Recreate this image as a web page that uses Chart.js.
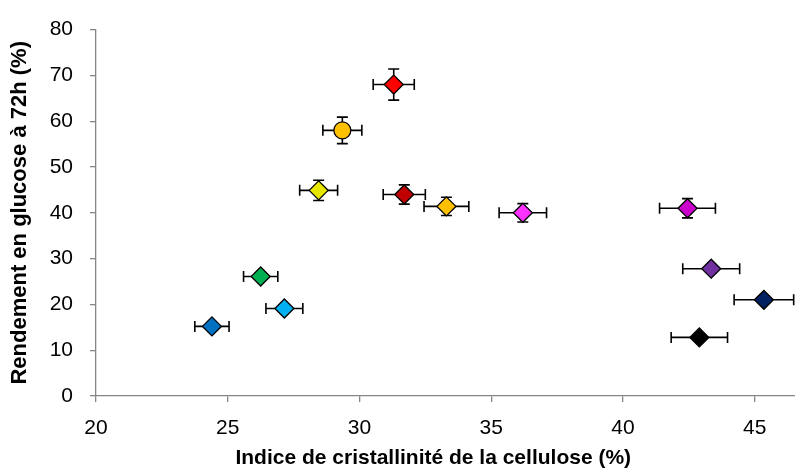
<!DOCTYPE html>
<html><head><meta charset="utf-8">
<script src="https://cdn.jsdelivr.net/npm/chart.js@4.4.1/dist/chart.umd.min.js"></script>
<style>html,body{margin:0;padding:0;background:#fff;overflow:hidden}#wrap{width:805px;height:470px;position:relative}</style>
</head><body><div id="wrap"><canvas id="c"></canvas></div>
<script>
const crystallinity    = [24.4, 26.25, 27.15, 28.45, 29.35, 31.3, 31.7, 33.3, 36.2, 42.45, 43.35, 45.35, 42.9];
const glucoseYield     = [15.2, 26.1, 19.1, 44.9, 58.0, 68.0, 44.0, 41.4, 40.0, 41.0, 27.8, 21.0, 12.8];
const crystallinityErr = [0.65, 0.65, 0.7, 0.72, 0.74, 0.78, 0.8, 0.85, 0.9, 1.06, 1.08, 1.13, 1.07];
const yieldErr         = [0.8, 0.8, 0.8, 2.2, 2.9, 3.4, 2.1, 2.0, 2.0, 2.1, 0.8, 0.8, 0.8];
const markerColors     = ['#0070C0','#00B050','#00B0F0','#E6E600','#FFC000','#FF0000','#C00000','#FFC000','#FF33FF','#CC00CC','#7030A0','#002060','#000000'];
const markerShapes     = ['rectRot','rectRot','rectRot','rectRot','circle','rectRot','rectRot','rectRot','rectRot','rectRot','rectRot','rectRot','rectRot'];
const xTickValues = [20, 25, 30, 35, 40, 45];
const yTickValues = [0, 10, 20, 30, 40, 50, 60, 70, 80];
const xTitle = 'Indice de cristallinité de la cellulose (%)';
const yTitle = 'Rendement en glucose à 72h (%)';

const FONT = "'Liberation Sans', Arial, sans-serif";
const AXIS = '#868686';

const errorBars = {
  id: 'errorBars',
  beforeDatasetsDraw(chart) {
    const {ctx} = chart; const x = chart.scales.x, y = chart.scales.y;
    const cap = 5.5;
    ctx.save();
    ctx.strokeStyle = '#000'; ctx.lineWidth = 1.6;
    crystallinity.forEach((v, i) => {
      const px = x.getPixelForValue(v), py = y.getPixelForValue(glucoseYield[i]);
      const x0 = x.getPixelForValue(v - crystallinityErr[i]), x1 = x.getPixelForValue(v + crystallinityErr[i]);
      const y0 = y.getPixelForValue(glucoseYield[i] - yieldErr[i]), y1 = y.getPixelForValue(glucoseYield[i] + yieldErr[i]);
      ctx.beginPath();
      ctx.moveTo(x0, py); ctx.lineTo(x1, py);
      ctx.moveTo(x0, py - cap); ctx.lineTo(x0, py + cap);
      ctx.moveTo(x1, py - cap); ctx.lineTo(x1, py + cap);
      ctx.moveTo(px, y0); ctx.lineTo(px, y1);
      ctx.moveTo(px - cap, y0); ctx.lineTo(px + cap, y0);
      ctx.moveTo(px - cap, y1); ctx.lineTo(px + cap, y1);
      ctx.stroke();
    });
    ctx.restore();
  }
};

// x-axis title, centred as in the original figure (slightly left of the plot centre)
const xAxisTitle = {
  id: 'xAxisTitle',
  afterDraw(chart) {
    const {ctx} = chart; const x = chart.scales.x;
    ctx.save();
    ctx.font = 'bold 21px ' + FONT;
    ctx.fillStyle = '#000'; ctx.textAlign = 'center'; ctx.textBaseline = 'middle';
    ctx.fillText(xTitle, x.getPixelForValue(32.8), x.bottom - 12);
    ctx.restore();
  }
};

new Chart(document.getElementById('c'), {
  type: 'scatter',
  data: {
    datasets: [{
      data: crystallinity.map((v, i) => ({x: v, y: glucoseYield[i]})),
      backgroundColor: markerColors,
      borderColor: '#000',
      borderWidth: 1.3,
      pointStyle: markerShapes,
      pointRadius: markerShapes.map(s => s === 'circle' ? 8.5 : 9.5),
      pointHoverRadius: markerShapes.map(s => s === 'circle' ? 8.5 : 9.5)
    }]
  },
  options: {
    responsive: true, maintainAspectRatio: false, animation: false,
    events: [],
    layout: {padding: {top: 25, right: 0, left: 0, bottom: 0}},
    plugins: {legend: {display: false}, tooltip: {enabled: false}},
    scales: {
      x: {
        type: 'linear', min: 20, max: 46.5,
        afterBuildTicks: s => { s.ticks = xTickValues.map(v => ({value: v})); },
        afterFit: s => { s.height = 74; },
        grid: {drawOnChartArea: false, color: AXIS, tickLength: 6, lineWidth: 1.3},
        border: {color: AXIS, width: 1.3},
        ticks: {color: '#000', font: {family: FONT, size: 21}, padding: 14, maxRotation: 0},
        title: {display: false, text: xTitle}
      },
      y: {
        type: 'linear', min: 0, max: 80,
        afterBuildTicks: s => { s.ticks = yTickValues.map(v => ({value: v})); },
        afterFit: s => { s.width = 96; },
        grid: {drawOnChartArea: false, color: AXIS, tickLength: 6, lineWidth: 1.3},
        border: {color: AXIS, width: 1.3},
        ticks: {color: '#000', font: {family: FONT, size: 21}, padding: 17},
        title: {display: true, text: yTitle, color: '#000', font: {family: FONT, size: 22, weight: 'bold'}, padding: {top: 7, bottom: 0}}
      }
    }
  },
  plugins: [errorBars, xAxisTitle]
});
</script></body></html>
